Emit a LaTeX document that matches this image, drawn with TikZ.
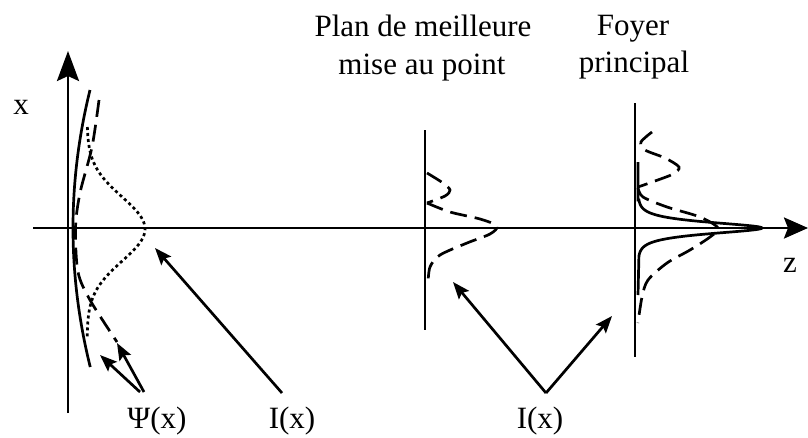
\documentclass[tikz,border=0pt]{standalone}
\usepackage{fontspec}
\setmainfont{Liberation Serif}
\usetikzlibrary{arrows.meta}
\begin{document}
\begin{tikzpicture}[x=1pt,y=-1pt,
  lbl/.style={font=\fontsize{31}{37}\selectfont, inner sep=0pt, anchor=base},
  axis/.style={line width=2.8pt},
  curve/.style={line width=2.7pt},
  dsh/.style={curve, dash pattern=on 17pt off 8pt},
  dotc/.style={curve, dash pattern=on 3pt off 3pt},
  ptr/.style={line width=2.7pt, -{Stealth[length=17pt,width=13pt,inset=3pt]}},
  bigtip/.style={-{Stealth[length=30pt,width=22pt,inset=5pt]}}
]
\useasboundingbox (0,0) rectangle (808,437);
% axes
\coordinate (xb) at (68,413);
\coordinate (xt) at (68,51);
\draw[axis, bigtip] (xb) -- (xt);
\coordinate (zs) at (33,228);
\coordinate (ze) at (808,228);
\draw[axis, -{Stealth[length=24pt,width=21pt,inset=4pt]}] (zs) -- (ze);
% planes
\coordinate (p1t) at (425,130);
\coordinate (p1b) at (425,330);
\draw[axis] (p1t) -- (p1b);
\coordinate (p2t) at (635,103);
\coordinate (p2b) at (635,357);
\draw[axis] (p2t) -- (p2b);
% left curves
\draw[curve] plot[domain=90:367, samples=60] ({73+17*((\x-228)/138)^2}, \x);
\draw[dsh] plot[smooth] coordinates {(99,100) (92,147) (80,193) (75.5,228) (78,272) (90,300) (117,342)};
\draw[dotc] plot[domain=127:337, samples=90] ({87+58*exp(-0.5*((\x-229)/32)^2)}, \x);
% middle curve
\draw[dsh] plot[smooth] coordinates {(427,173) (443,183) (450,190) (445,196) (427,203)};
\draw[dsh] plot[smooth] coordinates {(427,203) (450,212) (480,219) (497,226) (490,234) (467,243) (440,255) (430,267) (428,284)};
% right curves
\draw[dsh] plot[smooth] coordinates {(652,132) (641,142) (645,150) (665,158) (679,167) (673,174) (655,181) (638,187)};
\draw[dsh] plot[smooth] coordinates {(638,188) (643,197) (667,207) (700,217) (718,228) (710,237) (690,250) (667,263) (648,280) (642,297) (638,323)};
\draw[curve] (638,162) -- (638,200) -- plot[domain=200:256, samples=113] ({638+124/cosh((\x-228)/5)}, \x) -- (638,295);
% labels
\node[lbl] (xl) at (21,114) {x};
\node[lbl] (zl) at (790,272) {z};
\node[lbl] (plan1) at (423,36) {Plan de meilleure};
\node[lbl] (plan2) at (422,74) {mise au point};
\node[lbl] (foy1) at (633,35) {Foyer};
\node[lbl] (foy2) at (634,72) {principal};
\node[lbl] (psi) at (157,428) {Ψ(x)};
\node[lbl] (i1) at (292,428) {I(x)};
\node[lbl] (i2) at (540,428) {I(x)};
% pointers
\coordinate (psiA) at (140,392);
\coordinate (psiB) at (144,392);
\coordinate (psiTa) at (100,355);
\coordinate (psiTb) at (117,343);
\draw[ptr] (psiA) -- (psiTa);
\draw[ptr] (psiB) -- (psiTb);
\coordinate (i1A) at (282,393);
\coordinate (i1T) at (155,248);
\draw[ptr] (i1A) -- (i1T);
\coordinate (i2A) at (546,393);
\coordinate (i2Ta) at (453,282);
\coordinate (i2Tb) at (612,316);
\draw[ptr] (i2A) -- (i2Ta);
\draw[ptr] (i2A) -- (i2Tb);
\end{tikzpicture}
\end{document}
